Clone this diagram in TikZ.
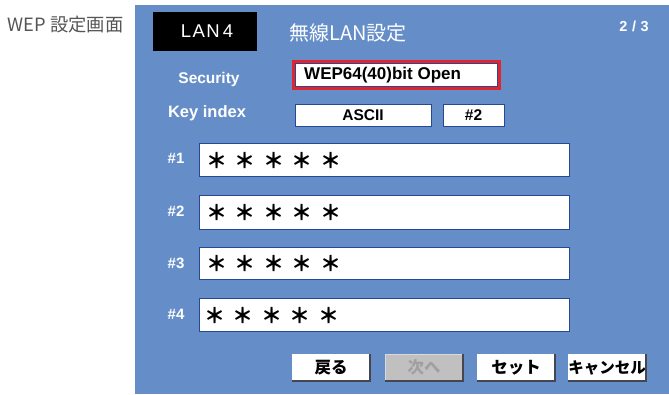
\documentclass[tikz,border=0pt]{standalone}
\usepackage{fontspec}
\setmainfont{Liberation Sans}
\newfontfamily\jp{Noto Sans CJK JP}
\newfontfamily\spaced[LetterSpace=8]{Liberation Sans}
\newfontfamily\spacedb[LetterSpace=4]{Liberation Sans Bold}
\definecolor{panel}{RGB}{101,142,200}
\definecolor{fieldline}{RGB}{40,72,150}
\definecolor{redline}{RGB}{226,36,44}
\definecolor{captiongray}{RGB}{85,85,85}
\definecolor{btnshade}{RGB}{70,70,80}
\definecolor{disabledfill}{RGB}{192,192,192}
\definecolor{disabledtext}{RGB}{160,160,160}
\newcommand{\fivestars}{＊\hspace{7.5pt}＊\hspace{7.5pt}＊\hspace{7.5pt}＊\hspace{7.5pt}＊}
\tikzset{
  box/.style={anchor=north west, inner sep=0pt, outer sep=0pt},
  field/.style={box, draw=fieldline, line width=0.9pt, fill=white},
  lbl/.style={text=white, inner sep=0pt, font=\bfseries\fontsize{15}{15}\selectfont},
  valtext/.style={text=black, inner sep=0pt, font=\bfseries\fontsize{15.5}{15.5}\selectfont},
  stars/.style={anchor=west, inner sep=0pt, text=black, font=\jp\bfseries\fontsize{21}{21}\selectfont},
  btn/.style={box, fill=white, draw=white, line width=0.8pt, minimum width=78pt, minimum height=27pt,
              font=\jp\bfseries\fontsize{16.5}{16.5}\selectfont, text=black},
  btnedge/.style={draw=btnshade, line width=1.2pt}
}
\begin{document}
\begin{tikzpicture}[x=1pt,y=-1pt]
\useasboundingbox (0,0) rectangle (669,394);
% panel
\node[box, fill=panel, minimum width=534pt, minimum height=389pt] (panel) at (135,5) {};
% caption
\node[anchor=west, inner sep=0pt, text=captiongray, font=\jp\fontsize{18.3}{18.3}\selectfont] (cap) at (7.5,25) {WEP 設定画面};
% header
\node[box, fill=black, minimum width=104pt, minimum height=39pt] (lan) at (153,12) {};
\node[text=white, inner sep=0pt, font=\spaced\fontsize{18.5}{18.5}\selectfont] (lantext) at ([xshift=2pt]lan.center) {LAN\,4};
\node[anchor=west, inner sep=0pt, text=white, font=\jp\fontsize{20}{20}\selectfont] (title) at (289,33) {無線LAN設定};
\node[anchor=east, inner sep=0pt, text=white, font=\spacedb\fontsize{14.5}{14.5}\selectfont] (page) at (649,26) {2 / 3};
% security
\node[lbl, font=\bfseries\fontsize{15.5}{15.5}\selectfont] (seclbl) at (209,79) {Security};
\node[box, draw=redline, line width=3pt, minimum width=206pt, minimum height=27pt] (secred) at (293.5,61.5) {};
\node[field, minimum width=202pt, minimum height=23pt] (secfield) at (295.5,63.5) {};
\node[anchor=west, valtext, font=\bfseries\fontsize{17}{17}\selectfont] (secval) at (304,75) {WEP64(40)bit Open};
% key index
\node[lbl, font=\bfseries\fontsize{16.5}{16.5}\selectfont] (keylbl) at (207,113) {Key index};
\node[field, minimum width=136pt, minimum height=22pt] (ascii) at (295,104) {};
\node[valtext] (asciitext) at (ascii.center) {ASCII};
\node[field, minimum width=61pt, minimum height=22pt] (idx) at (443,104) {};
\node[valtext] (idxtext) at (idx.center) {\#2};
% keys
\node[field, minimum width=370pt, minimum height=33pt] (k1) at (199,143) {};
\node[field, minimum width=370pt, minimum height=34pt] (k2) at (199,195) {};
\node[field, minimum width=370pt, minimum height=32pt] (k3) at (199,247) {};
\node[field, minimum width=370pt, minimum height=33pt] (k4) at (199,298) {};
\node[lbl] (l1) at (176,158) {\#1};
\node[lbl] (l2) at (176,211) {\#2};
\node[lbl] (l3) at (176,263) {\#3};
\node[lbl] (l4) at (176,314) {\#4};
\node[stars] (s1) at ([xshift=7pt,yshift=-1pt]k1.west) {\fivestars};
\node[stars] (s2) at ([xshift=7pt,yshift=-1pt]k2.west) {\fivestars};
\node[stars] (s3) at ([xshift=7pt,yshift=-1pt]k3.west) {\fivestars};
\node[stars] (s4) at ([xshift=5pt,yshift=-1pt]k4.west) {\fivestars};
% buttons
\node[btn] (back) at (292,354) {戻る};
\node[btn, fill=disabledfill, draw=disabledfill!60!white, text=disabledtext] (next) at (385,354) {次へ};
\node[btn] (set) at (477,354) {セット};
\node[btn, font=\jp\bfseries\fontsize{15.5}{15.5}\selectfont] (cancel) at (568,354) {キャンセル};
\foreach \b in {back,next,set,cancel}{
  \draw[btnedge] (\b.north east) -- (\b.south east) -- (\b.south west);
}
\end{tikzpicture}
\end{document}
